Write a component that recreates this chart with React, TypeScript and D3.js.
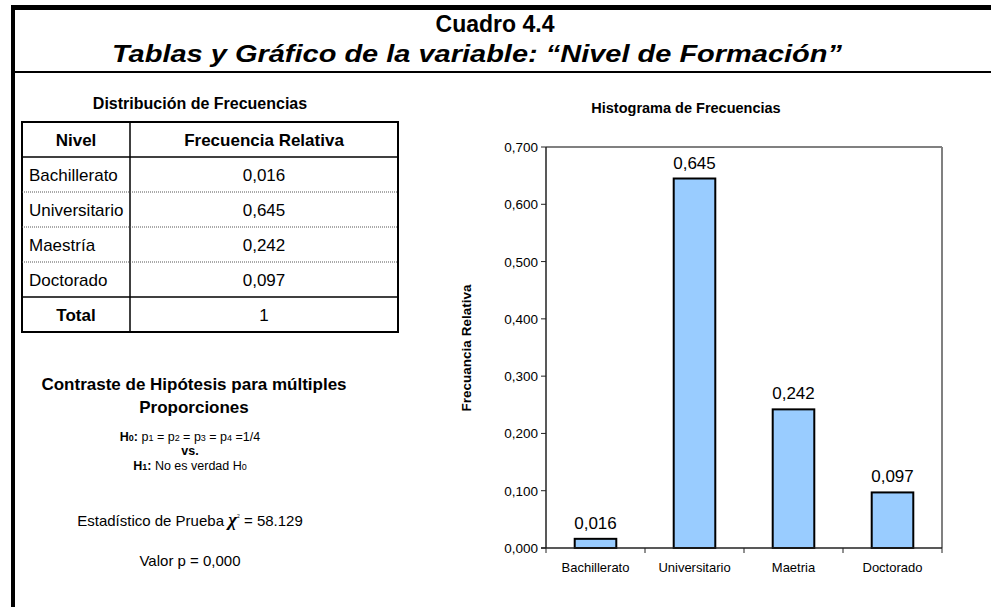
import React from "react";
import * as d3 from "d3";

const categories = ["Bachillerato", "Universitario", "Maetria", "Doctorado"];
const values = [0.016, 0.645, 0.242, 0.097];
const yTicks = [0, 0.1, 0.2, 0.3, 0.4, 0.5, 0.6, 0.7];

const tableLevels = ["Bachillerato", "Universitario", "Maestría", "Doctorado"];
const tableValues = ["0,016", "0,645", "0,242", "0,097"];
const tableTotal = "1";

const W = 991;
const H = 607;
const FONT = "Arial, 'Liberation Sans', Helvetica, sans-serif";

const plot = { left: 546, right: 942, top: 147, bottom: 548 };

const fmt = (v: number) => d3.format(".3f")(v).replace(".", ",");

export default function App() {
  const y = d3.scaleLinear().domain([0, 0.7]).range([plot.bottom, plot.top]);
  const x = d3
    .scaleBand<string>()
    .domain(categories)
    .range([plot.left, plot.right])
    .paddingInner(0)
    .paddingOuter(0);
  const step = x.step();
  const barW = step * 0.42;

  // table geometry
  const tL = 22, tR = 398, tC = 130, tTop = 122;
  const rowH = 35;
  const rows = [tTop, ...d3.range(1, 7).map((i) => tTop + i * rowH)];
  const col1 = (tL + tC) / 2;
  const col2 = (tC + tR) / 2;
  const tfs = 17;
  const base = (r: number) => rows[r] + rowH / 2 + 6;

  return (
    <svg
      width={W}
      height={H}
      style={{ position: "absolute", left: 0, top: 0, background: "#fff" }}
      fontFamily={FONT}
    >
      <rect x={0} y={0} width={W} height={H} fill="#fff" />
      {/* outer frame */}
      <line x1={11} x2={W} y1={7.5} y2={7.5} stroke="#000" strokeWidth={5} />
      <line x1={13} x2={13} y1={5} y2={H} stroke="#000" strokeWidth={4} />
      <line x1={15} x2={W} y1={72} y2={72} stroke="#000" strokeWidth={2} />

      {/* titles */}
      <text x={495} y={32} textAnchor="middle" fontWeight="bold" fontSize={23}>
        Cuadro 4.4
      </text>
      <text
        x={477}
        y={62}
        textAnchor="middle"
        fontWeight="bold"
        fontStyle="italic"
        fontSize={23}
        textLength={730}
        lengthAdjust="spacingAndGlyphs"
      >
        Tablas y Gráfico de la variable: “Nivel de Formación”
      </text>

      {/* frequency table */}
      <text x={200} y={109} textAnchor="middle" fontWeight="bold" fontSize={16}>
        Distribución de Frecuencias
      </text>
      <rect
        x={tL}
        y={tTop}
        width={tR - tL}
        height={rows[6] - tTop}
        fill="none"
        stroke="#000"
        strokeWidth={2}
      />
      <line x1={tC} x2={tC} y1={tTop} y2={rows[6]} stroke="#000" strokeWidth={1.5} />
      <line x1={tL} x2={tR} y1={rows[1]} y2={rows[1]} stroke="#000" strokeWidth={1.5} />
      <line x1={tL} x2={tR} y1={rows[5]} y2={rows[5]} stroke="#000" strokeWidth={1.5} />
      {[2, 3, 4].map((i) => (
        <line
          key={i}
          x1={tL}
          x2={tR}
          y1={rows[i]}
          y2={rows[i]}
          stroke="#555"
          strokeWidth={1}
          strokeDasharray="1,1"
        />
      ))}
      <text x={col1} y={base(0)} textAnchor="middle" fontWeight="bold" fontSize={tfs}>
        Nivel
      </text>
      <text x={col2} y={base(0)} textAnchor="middle" fontWeight="bold" fontSize={tfs}>
        Frecuencia Relativa
      </text>
      {tableLevels.map((lv, i) => (
        <g key={lv}>
          <text x={29} y={base(i + 1)} fontSize={tfs}>
            {lv}
          </text>
          <text x={col2} y={base(i + 1)} textAnchor="middle" fontSize={tfs}>
            {tableValues[i]}
          </text>
        </g>
      ))}
      <text x={col1} y={base(5)} textAnchor="middle" fontWeight="bold" fontSize={tfs}>
        Total
      </text>
      <text x={col2} y={base(5)} textAnchor="middle" fontSize={tfs}>
        {tableTotal}
      </text>

      {/* hypothesis test */}
      <text x={194} y={390} textAnchor="middle" fontWeight="bold" fontSize={17}>
        Contraste de Hipótesis para múltiples
      </text>
      <text x={194} y={413} textAnchor="middle" fontWeight="bold" fontSize={17}>
        Proporciones
      </text>
      <text x={190} y={441} textAnchor="middle" fontSize={12.5}>
        <tspan fontWeight="bold">H</tspan>
        <tspan fontWeight="bold" fontSize={9}>0</tspan>
        <tspan fontWeight="bold">:</tspan>
        <tspan> p</tspan>
        <tspan fontSize={9}>1</tspan>
        <tspan> = p</tspan>
        <tspan fontSize={9}>2</tspan>
        <tspan> = p</tspan>
        <tspan fontSize={9}>3</tspan>
        <tspan> = p</tspan>
        <tspan fontSize={9}>4</tspan>
        <tspan> =1/4</tspan>
      </text>
      <text x={190} y={455} textAnchor="middle" fontWeight="bold" fontSize={12.5}>
        vs.
      </text>
      <text x={190} y={470} textAnchor="middle" fontSize={12.5}>
        <tspan fontWeight="bold">H</tspan>
        <tspan fontWeight="bold" fontSize={9}>1</tspan>
        <tspan fontWeight="bold">:</tspan>
        <tspan> No es verdad H</tspan>
        <tspan fontSize={9}>0</tspan>
      </text>
      <text x={190} y={526} textAnchor="middle" fontSize={15}>
        <tspan>Estadístico de Prueba </tspan>
        <tspan
          fontFamily="'Liberation Serif', 'DejaVu Serif', serif"
          fontStyle="italic"
          fontWeight="bold"
          fontSize={19}
        >
          χ
        </tspan>
        <tspan fontSize={5} dy={-8}>2</tspan>
        <tspan dy={8}> = 58.129</tspan>
      </text>
      <text x={190} y={566} textAnchor="middle" fontSize={15}>
        Valor p = 0,000
      </text>

      {/* histogram */}
      <text x={686} y={113} textAnchor="middle" fontWeight="bold" fontSize={14.5}>
        Histograma de Frecuencias
      </text>
      <text
        transform={`translate(471, 348) rotate(-90)`}
        textAnchor="middle"
        fontWeight="bold"
        fontSize={13.5}
      >
        Frecuancia Relativa
      </text>

      {/* plot frame: top & right gray */}
      <line x1={plot.left} x2={plot.right} y1={plot.top} y2={plot.top} stroke="#808080" strokeWidth={2} />
      <line x1={plot.right} x2={plot.right} y1={plot.top} y2={plot.bottom} stroke="#808080" strokeWidth={2} />

      {/* bars */}
      {categories.map((c, i) => {
        const cx = (x(c) as number) + step / 2;
        return (
          <g key={c}>
            <rect
              x={cx - barW / 2}
              y={y(values[i])}
              width={barW}
              height={plot.bottom - y(values[i])}
              fill="#99CCFF"
              stroke="#000"
              strokeWidth={2}
            />
            <text x={cx} y={y(values[i]) - 10} textAnchor="middle" fontSize={17}>
              {fmt(values[i])}
            </text>
            <text x={cx} y={572} textAnchor="middle" fontSize={13}>
              {c}
            </text>
          </g>
        );
      })}

      {/* y axis */}
      <line x1={plot.left} x2={plot.left} y1={plot.top} y2={plot.bottom} stroke="#222" strokeWidth={1.5} />
      {yTicks.map((t) => (
        <g key={t}>
          <line x1={plot.left - 5} x2={plot.left} y1={y(t)} y2={y(t)} stroke="#222" strokeWidth={1} />
          <text x={plot.left - 8} y={y(t) + 5} textAnchor="end" fontSize={13.5}>
            {fmt(t)}
          </text>
        </g>
      ))}
      {/* x axis */}
      <line x1={plot.left - 5} x2={plot.right} y1={plot.bottom} y2={plot.bottom} stroke="#222" strokeWidth={1.5} />
      {[...categories.map((c) => x(c) as number), plot.right].map((bx, i) => (
        <line key={i} x1={bx} x2={bx} y1={plot.bottom} y2={plot.bottom + 5} stroke="#222" strokeWidth={1} />
      ))}
    </svg>
  );
}
